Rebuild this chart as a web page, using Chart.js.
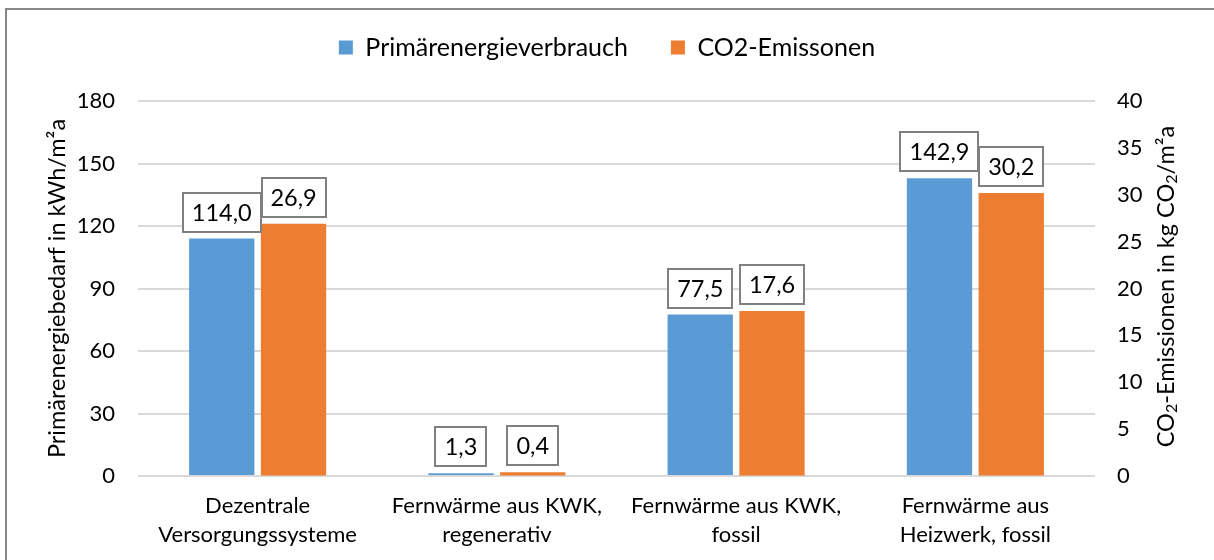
<!DOCTYPE html>
<html>
<head>
<meta charset="utf-8">
<script src="https://cdn.jsdelivr.net/npm/chart.js@4/dist/chart.umd.min.js"></script>
<style>
  html, body { margin: 0; padding: 0; background: #ffffff; }
  #wrap { width: 1214px; height: 560px; position: relative; }
</style>
</head>
<body>
<div id="wrap"><canvas id="c" width="1214" height="560"></canvas></div>
<script>
// Kategorien (zweizeilige Achsenbeschriftung)
const categories = [
  ["Dezentrale", "Versorgungssysteme"],
  ["Fernwärme aus KWK,", "regenerativ"],
  ["Fernwärme aus KWK,", "fossil"],
  ["Fernwärme aus", "Heizwerk, fossil"]
];
// Primärenergiebedarf in kWh/m²a
const primaryEnergy = [114.0, 1.3, 77.5, 142.9];
// CO2-Emissionen in kg CO2/m²a
const co2Emissions = [26.9, 0.4, 17.6, 30.2];
// Achsenteilung
const leftTicks = [0, 30, 60, 90, 120, 150, 180];
const rightTicks = [0, 5, 10, 15, 20, 25, 30, 35, 40];

const FONT = 'Lato, "Open Sans", sans-serif';
const BLUE = '#5b9bd5';
const ORANGE = '#ed7d31';

// Rahmen um das gesamte Diagramm
const frame = {
  id: 'frame',
  beforeDraw(chart) {
    const ctx = chart.ctx;
    ctx.save();
    ctx.fillStyle = '#ffffff';
    ctx.fillRect(0, 0, chart.width, chart.height);
    ctx.strokeStyle = '#878787';
    ctx.lineWidth = 2;
    ctx.strokeRect(6, 9, chart.width + 40, chart.height + 40);
    ctx.restore();
  }
};

// Legendenband: fester Abstand zwischen Legende und Zeichenfläche
const legendBand = {
  id: 'legendBand',
  beforeInit(chart) {
    const fit = chart.legend.fit;
    chart.legend.fit = function () {
      fit.call(this);
      this.height = 109;
    };
  }
};

// Wertefelder über den Balken
const valueBoxes = {
  id: 'valueBoxes',
  afterDatasetsDraw(chart) {
    const ctx = chart.ctx;
    ctx.save();
    ctx.font = '23.5px ' + FONT;
    ctx.textAlign = 'center';
    ctx.textBaseline = 'middle';
    chart.data.datasets.forEach((ds, di) => {
      const meta = chart.getDatasetMeta(di);
      meta.data.forEach((bar, i) => {
        const text = ds.data[i].toFixed(1).replace('.', ',');
        const w = Math.round(ctx.measureText(text).width + 18);
        const h = 39;
        const x = Math.round(bar.x - w / 2);
        const y = Math.round(bar.y - 7 - h);
        ctx.fillStyle = '#ffffff';
        ctx.fillRect(x, y, w, h);
        ctx.strokeStyle = '#808080';
        ctx.lineWidth = 2;
        ctx.strokeRect(x, y, w, h);
        ctx.fillStyle = '#000000';
        ctx.fillText(text, bar.x, y + h / 2 + 1);
      });
    });
    ctx.restore();
  }
};

// Rechte Achsentitel mit tiefgestellten Ziffern, von unten nach oben gelesen
const rightTitle = {
  id: 'rightTitle',
  afterDraw(chart) {
    const ctx = chart.ctx;
    const area = chart.chartArea;
    const parts = [
      { t: 'CO' }, { t: '2', sub: true }, { t: '-Emissionen in kg CO' },
      { t: '2', sub: true }, { t: '/m²a' }
    ];
    const big = '23.5px ' + FONT;
    const small = '16px ' + FONT;
    ctx.save();
    let total = 0;
    parts.forEach(p => { ctx.font = p.sub ? small : big; p.w = ctx.measureText(p.t).width; total += p.w; });
    ctx.translate(1166, (area.top + area.bottom) / 2 - 2);
    ctx.rotate(-Math.PI / 2);
    ctx.fillStyle = '#000000';
    ctx.textBaseline = 'middle';
    ctx.textAlign = 'left';
    let x = -total / 2;
    parts.forEach(p => {
      ctx.font = p.sub ? small : big;
      ctx.fillText(p.t, x, p.sub ? 6 : 0);
      x += p.w;
    });
    ctx.restore();
  }
};

new Chart(document.getElementById('c'), {
  type: 'bar',
  data: {
    labels: categories,
    datasets: [
      {
        label: 'Primärenergieverbrauch',
        data: primaryEnergy,
        backgroundColor: BLUE,
        yAxisID: 'y',
        categoryPercentage: 0.6,
        barPercentage: 0.91
      },
      {
        label: 'CO2-Emissonen',
        data: co2Emissions,
        backgroundColor: ORANGE,
        yAxisID: 'y2',
        categoryPercentage: 0.6,
        barPercentage: 0.91
      }
    ]
  },
  options: {
    responsive: false,
    animation: false,
    devicePixelRatio: 1,
    layout: { padding: { top: -8, left: 0, right: 0, bottom: 0 } },
    plugins: {
      legend: {
        position: 'top',
        labels: {
          font: { family: FONT, size: 25 },
          color: '#000000',
          boxWidth: 14,
          boxHeight: 14,
          padding: 43
        }
      },
      tooltip: { enabled: false }
    },
    scales: {
      x: {
        grid: { display: false, drawTicks: false },
        border: { display: false },
        ticks: {
          font: { family: FONT, size: 22, lineHeight: 1.32 },
          color: '#000000',
          padding: 15,
          maxRotation: 0
        },
        afterFit(scale) { scale.height = 84; }
      },
      y: {
        position: 'left',
        min: 0,
        max: 180,
        afterBuildTicks(scale) { scale.ticks = leftTicks.map(v => ({ value: v })); },
        grid: { color: '#d9d9d9', lineWidth: 2, drawTicks: false },
        border: { display: false },
        ticks: {
          font: { family: FONT, size: 22 },
          color: '#000000',
          padding: 23
        },
        title: {
          display: true,
          text: 'Primärenergiebedarf in kWh/m²a',
          font: { family: FONT, size: 23.5 },
          color: '#000000',
          padding: { top: 43, bottom: 0 }
        },
        afterFit(scale) { scale.width = 138; }
      },
      y2: {
        position: 'right',
        min: 0,
        max: 40,
        afterBuildTicks(scale) { scale.ticks = rightTicks.map(v => ({ value: v })); },
        grid: { drawOnChartArea: false, drawTicks: false },
        border: { display: false },
        ticks: {
          font: { family: FONT, size: 22 },
          color: '#000000',
          padding: 22
        },
        afterFit(scale) { scale.width = 119; }
      }
    }
  },
  plugins: [frame, legendBand, valueBoxes, rightTitle]
});
</script>
</body>
</html>
